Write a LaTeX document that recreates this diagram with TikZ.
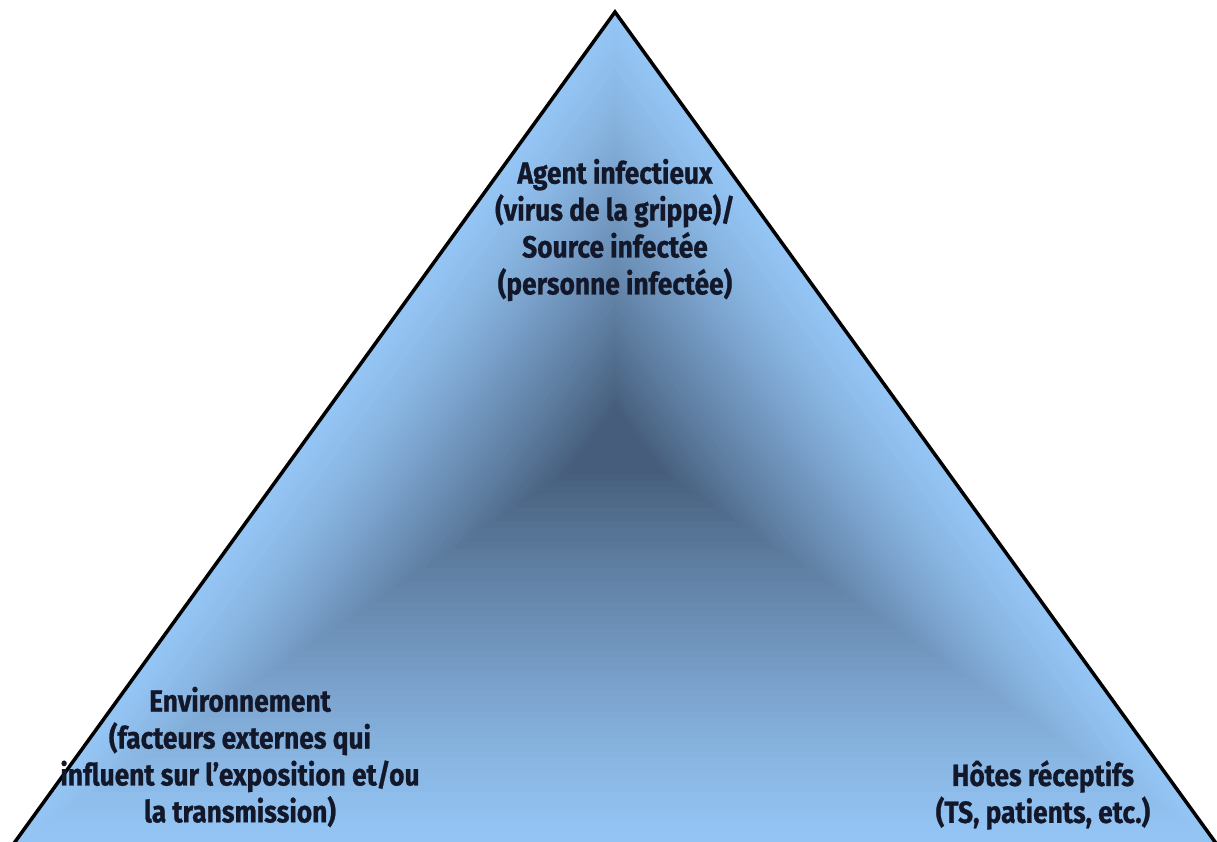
\documentclass[tikz,border=0pt]{standalone}
\usepackage{fontspec}
\newfontfamily\trifont[FakeStretch=0.86,FakeBold=0.8]{Fira Sans}
\usetikzlibrary{calc}
\definecolor{edgeblue}{RGB}{148,196,244}
\definecolor{coreblue}{RGB}{70,94,124}
\definecolor{labelink}{RGB}{18,24,42}

\begin{document}
\begin{tikzpicture}[x=0.01cm,y=-0.01cm,
	cornerlabel/.style={font=\trifont\bfseries\fontsize{8.7}{10.5}\selectfont,
		text=labelink,align=center,inner sep=0pt}]
	\useasboundingbox (0,0) rectangle (1217,841);
	\clip (0,0) rectangle (1217,841);
	
	% corners of the triangle and its dark core
	\coordinate (apex) at (615,12);
	\coordinate (left) at (12,846);
	\coordinate (right) at (1218,846);
	\coordinate (core) at (615,440);
	
	% shading: nested triangles from the sides in to the core
	\foreach \i in {0,...,60}{
		\pgfmathsetmacro{\s}{1-\i/60}
		\pgfmathtruncatemacro{\p}{min(100,112*(\i/60)^1.25)}
		\fill[coreblue!\p!edgeblue] ($(core)!\s!(apex)$) -- ($(core)!\s!(left)$)
			-- ($(core)!\s!(right)$) -- cycle;
	}
	
	% outline
	\draw[line width=1pt,line join=miter] (left) -- (apex) -- (right);
	
	% labels
	\node[cornerlabel] (agent) at (615,230) {Agent infectieux\\(virus de la grippe)/\\Source infectée\\(personne infectée)};
	\node[cornerlabel] (envt) at (240,757) {Environnement\\(facteurs externes qui\\influent sur l’exposition et/ou\\la transmission)};
	\node[cornerlabel] (hotes) at (1043,795) {Hôtes réceptifs\\(TS, patients, etc.)};
	
\end{tikzpicture}
\end{document}
